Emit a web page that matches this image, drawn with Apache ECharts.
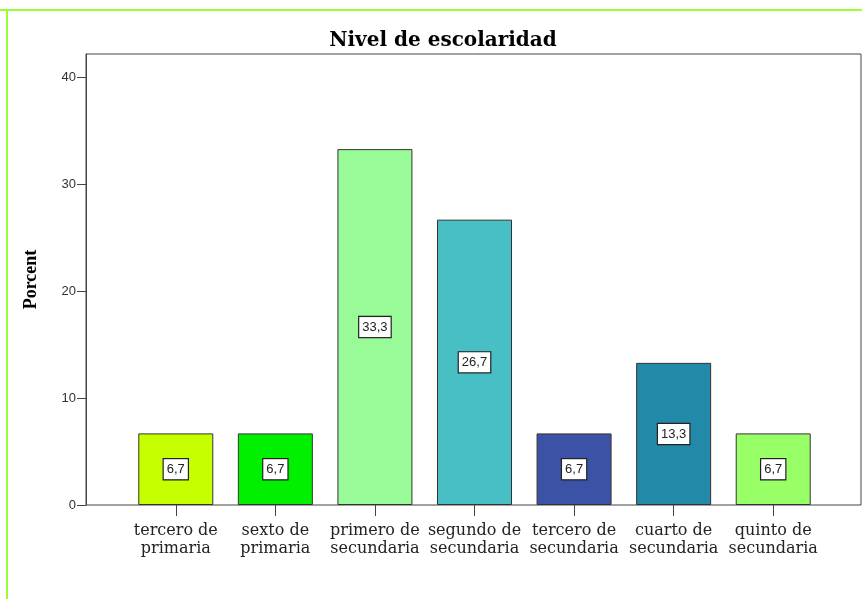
<!DOCTYPE html>
<html>
<head>
<meta charset="utf-8">
<script src="https://cdn.jsdelivr.net/npm/echarts@6/dist/echarts.min.js"></script>
<style>html,body{margin:0;padding:0;background:#fff;}#c{width:862px;height:599px;}</style>
</head>
<body>
<div id="c"></div>
<script>
const categories = ['tercero de\nprimaria','sexto de\nprimaria','primero de\nsecundaria','segundo de\nsecundaria','tercero de\nsecundaria','cuarto de\nsecundaria','quinto de\nsecundaria'];
const values = [6.7, 6.7, 33.3, 26.7, 6.7, 13.3, 6.7];
const barColors = ['#c6ff00','#00f000','#98fb98','#48bfc4','#3c52a6','#2389a8','#99ff66'];
const yTicks = [0, 10, 20, 30, 40];
const titleText = 'Nivel de escolaridad';
const yName = 'Porcent';

const chart = echarts.init(document.getElementById('c'), null, {renderer:'canvas'});
const yMax = 42.2;
chart.setOption({
  backgroundColor: '#fff',
  animation: false,
  title: {
    text: titleText, left: 438, top: 26, textAlign: 'center',
    textStyle: {fontFamily: 'DejaVu Serif', fontWeight: 'bold', fontSize: 20, color: '#000'}
  },
  graphic: [
    {type:'line', shape:{x1:0,y1:10,x2:862,y2:10}, style:{stroke:'#99ff33', lineWidth:2}},
    {type:'line', shape:{x1:7,y1:10,x2:7,y2:599}, style:{stroke:'#99ff33', lineWidth:2}}
  ],
  grid: [
    {left: 126, right: 39, top: 54, bottom: 94},
    {left: 86, right: 1, top: 54, bottom: 94, show: true, borderColor: '#444', borderWidth: 1, backgroundColor: 'transparent'}
  ],
  xAxis: [
    {type: 'category', gridIndex: 0, data: categories,
     axisLine: {show: false},
     axisTick: {show: true, alignWithLabel: true, length: 11, lineStyle: {color: '#444'}},
     axisLabel: {margin: 17, fontFamily: 'DejaVu Serif', fontSize: 16, color: '#222', lineHeight: 18, interval: 0}
    },
    {type: 'value', gridIndex: 1, show: false, min: 0, max: 1}
  ],
  yAxis: [
    {type: 'value', gridIndex: 0, min: 0, max: yMax, show: false, splitLine: {show: false}},
    {type: 'value', gridIndex: 1, min: 0, max: yMax,
     name: yName, nameLocation: 'middle', nameGap: 46,
     nameTextStyle: {fontFamily: 'Liberation Serif', fontWeight: 'bold', fontSize: 18, color: '#000'},
     axisLine: {show: true, lineStyle: {color: '#444'}},
     axisTick: {show: true, length: 9, lineStyle: {color: '#444'}, customValues: yTicks},
     axisLabel: {margin: 10, fontFamily: 'Liberation Sans', fontSize: 13, color: '#333', customValues: yTicks},
     splitLine: {show: false}
    }
  ],
  series: [{
    type: 'bar', xAxisIndex: 0, yAxisIndex: 0, barWidth: 75,
    data: values.map((v, i) => ({value: v, itemStyle: {color: barColors[i]}})),
    itemStyle: {borderColor: '#333', borderWidth: 1},
    label: {
      show: true, position: 'inside',
      formatter: p => String(p.value).replace('.', ','),
      backgroundColor: '#fff', borderColor: '#222', borderWidth: 1.2,
      padding: [4, 3, 3, 3], color: '#222', fontFamily: 'Liberation Sans', fontSize: 13
    }
  }]
});
</script>
</body>
</html>
